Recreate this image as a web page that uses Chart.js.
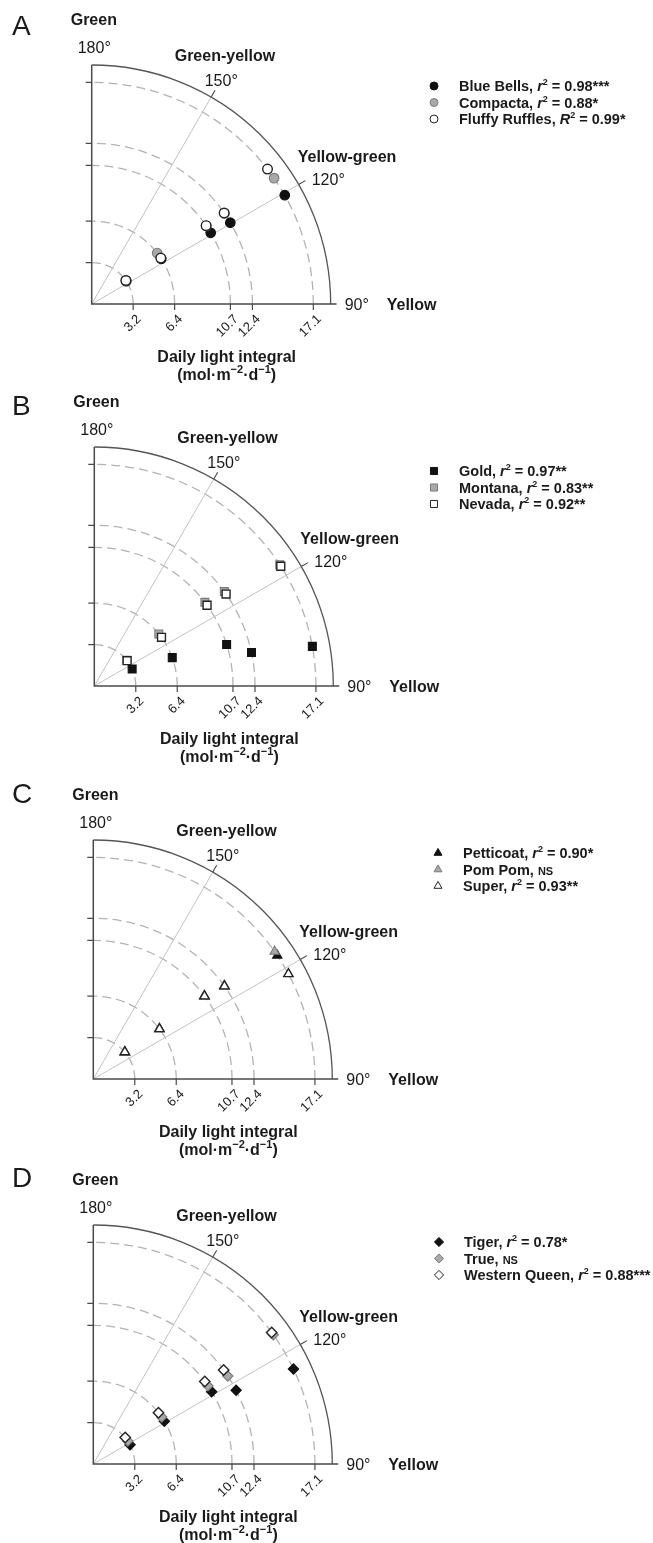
<!DOCTYPE html>
<html>
<head>
<meta charset="utf-8">
<script src="https://cdn.jsdelivr.net/npm/chart.js@4.4.0/dist/chart.umd.min.js"></script>
<style>
  body { margin: 0; background: #fff; }
  #wrap { position: relative; width: 653px; height: 1543px; overflow: hidden; }
  #wrap canvas { position: absolute; left: 0; }
</style>
</head>
<body>
<div id="wrap">
  <canvas id="chartA" width="653" height="383" style="top:0px"></canvas>
  <canvas id="chartB" width="653" height="383" style="top:382px"></canvas>
  <canvas id="chartC" width="653" height="383" style="top:775px"></canvas>
  <canvas id="chartD" width="653" height="383" style="top:1160px"></canvas>
</div>
<script>
// daily light integral levels (radius) and tick labels
const dliLevels = [3.2, 6.4, 10.7, 12.4, 17.1];
const dliTickLabels = ["3.2", "6.4", "10.7", "12.4", "17.1"];

// hue angle (degrees), one value per DLI level
// A
const blueBellsHue = [123.5, 123.0, 120.9, 120.4, 119.4];
const compactaHue = [124.2, 127.9, 124.3, 124.3, 124.6];
const fluffyRufflesHue = [124.5, 123.6, 124.4, 124.5, 127.5];
// B
const goldHue = [114.1, 110.0, 107.4, 102.0, 100.3];
const montanaHue = [128.3, 128.9, 127.1, 126.0, 123.2];
const nevadaHue = [127.7, 125.9, 125.6, 124.9, 122.7];
// C
const petticoatHue = [130.3, 127.0, 126.6, 125.2, 123.9];
const pomPomHue = [130.8, 127.3, 126.9, 125.5, 125.1];
const superHue = [130.5, 127.1, 126.7, 125.3, 118.3];
// D
const tigerHue = [117.6, 121.1, 121.4, 117.3, 115.4];
const trueHue = [123.7, 124.5, 124.3, 123.2, 125.7];
const westernQueenHue = [129.7, 128.2, 126.5, 125.8, 126.4];

// legend texts
const panelANames = ["Blue Bells", "Compacta", "Fluffy Ruffles"];
const panelASym = ["r", "r", "R"];
const panelAStat = ["0.98***", "0.88*", "0.99*"];
const panelBNames = ["Gold", "Montana", "Nevada"];
const panelBSym = ["r", "r", "r"];
const panelBStat = ["0.97**", "0.83**", "0.92**"];
const panelCNames = ["Petticoat", "Pom Pom", "Super"];
const panelCSym = ["r", null, "r"];
const panelCStat = ["0.90*", "NS", "0.93**"];
const panelDNames = ["Tiger", "True", "Western Queen"];
const panelDSym = ["r", null, "r"];
const panelDStat = ["0.78*", "NS", "0.88***"];

const hueLines = [150, 120];

const k = 12.96;          // px per DLI unit
const axisMax = 20;
const oyLocal = 304;
const canvasW = 653, canvasH = 383;
const outerR = 18.44;
const FONT = '"Liberation Sans", Arial, sans-serif';

// black / grey / white marker look
const fills = ["#111111", "#a9a9a9", "#ffffff"];
const borders = ["#111111", "#7a7a7a", "#222222"];

const panels = [
  { id: "chartA", letter: "A", ox: 91.7, letterDy: -269, style: "circle", radius: 4.8, legR: 4,
    legX: 434, legY: -213, names: panelANames, sym: panelASym, stat: panelAStat,
    hues: [blueBellsHue, compactaHue, fluffyRufflesHue] },
  { id: "chartB", letter: "B", ox: 94.3, letterDy: -271, style: "rect", radius: 5.6, legR: 5,
    legX: 434, legY: -210, names: panelBNames, sym: panelBSym, stat: panelBStat,
    hues: [goldHue, montanaHue, nevadaHue] },
  { id: "chartC", letter: "C", ox: 93.3, letterDy: -276, style: "triangle", radius: 5.4, legR: 4.6,
    legX: 438, legY: -221, names: panelCNames, sym: panelCSym, stat: panelCStat,
    hues: [petticoatHue, pomPomHue, superHue] },
  { id: "chartD", letter: "D", ox: 93.3, letterDy: -277, style: "rectRot", radius: 5.2, legR: 4.6,
    legX: 439, legY: -217, names: panelDNames, sym: panelDSym, stat: panelDStat,
    hues: [tigerHue, trueHue, westernQueenHue] }
];

const rad = (deg) => deg * Math.PI / 180;

// polar (hue, dli) -> cartesian data for the scatter scales
const toPoints = (hue) => dliLevels.map((d, i) => {
  const t = rad(hue[i] - 90);
  return { x: d * Math.cos(t), y: d * Math.sin(t) };
});

// draw text made of several font pieces
const drawParts = (ctx, parts, x, y, align) => {
  let total = 0;
  parts.forEach(p => { ctx.font = p.font; total += ctx.measureText(p.text).width; });
  let cx = align === "center" ? x - total / 2 : x;
  ctx.textAlign = "left";
  parts.forEach(p => {
    ctx.font = p.font;
    ctx.fillText(p.text, cx, y + (p.dy || 0));
    cx += ctx.measureText(p.text).width;
  });
};

const polarFrame = {
  id: "polarFrame",
  beforeDatasetsDraw(chart) {
    const { ctx, scales: { x, y } } = chart;
    const ox = x.getPixelForValue(0), oy = y.getPixelForValue(0);
    const px = (r) => x.getPixelForValue(r) - ox;
    const at = (r, hue) => {
      const t = rad(hue - 90);
      return [x.getPixelForValue(r * Math.cos(t)), y.getPixelForValue(r * Math.sin(t))];
    };
    ctx.save();

    // dashed DLI arcs
    ctx.strokeStyle = "#b3b3b3";
    ctx.lineWidth = 1.3;
    ctx.setLineDash([9, 5]);
    dliLevels.forEach(d => {
      ctx.beginPath();
      ctx.arc(ox, oy, px(d), 0, -Math.PI / 2, true);
      ctx.stroke();
    });
    ctx.setLineDash([]);

    // hue guide lines
    hueLines.forEach(h => {
      const [x1, y1] = at(outerR, h);
      ctx.strokeStyle = "#c2c2c2";
      ctx.lineWidth = 1;
      ctx.beginPath(); ctx.moveTo(ox, oy); ctx.lineTo(x1, y1); ctx.stroke();
      const [x2, y2] = at(outerR + 0.6, h);
      ctx.strokeStyle = "#444";
      ctx.lineWidth = 1.1;
      ctx.beginPath(); ctx.moveTo(x1, y1); ctx.lineTo(x2, y2); ctx.stroke();
    });

    // outer arc
    ctx.strokeStyle = "#555";
    ctx.lineWidth = 1.3;
    ctx.beginPath();
    ctx.arc(ox, oy, px(outerR), 0, -Math.PI / 2, true);
    ctx.stroke();

    // axes
    ctx.strokeStyle = "#4a4a4a";
    ctx.lineWidth = 1.5;
    ctx.beginPath();
    ctx.moveTo(ox, y.getPixelForValue(outerR));
    ctx.lineTo(ox, oy);
    ctx.lineTo(x.getPixelForValue(18.9), oy);
    ctx.stroke();

    // ticks
    ctx.lineWidth = 1.2;
    dliLevels.forEach(d => {
      const tx = x.getPixelForValue(d), ty = y.getPixelForValue(d);
      ctx.beginPath();
      ctx.moveTo(tx, oy); ctx.lineTo(tx, oy + 6);
      ctx.moveTo(ox, ty); ctx.lineTo(ox - 6, ty);
      ctx.stroke();
    });
    ctx.restore();
  },
  afterDraw(chart, args, opts) {
    const { ctx, scales: { x, y } } = chart;
    const ox = x.getPixelForValue(0), oy = y.getPixelForValue(0);
    const bold = "bold 16px " + FONT;
    const reg = "16px " + FONT;
    ctx.save();
    ctx.fillStyle = "#1a1a1a";
    ctx.textBaseline = "alphabetic";
    ctx.textAlign = "left";

    ctx.font = "28px " + FONT;
    ctx.fillText(opts.letter, 12, oy + opts.letterDy);

    const label = (text, font, dx, dy) => { ctx.font = font; ctx.fillText(text, ox + dx, oy + dy); };
    label("Green", bold, -21, -279);
    label("180°", reg, -14, -251);
    label("Green-yellow", bold, 83, -243);
    label("150°", reg, 113, -218);
    label("Yellow-green", bold, 206, -142);
    label("120°", reg, 220, -119);
    label("90°", reg, 253, 6);
    label("Yellow", bold, 295, 6);

    // rotated tick labels
    ctx.font = "13px " + FONT;
    dliLevels.forEach((d, i) => {
      const tx = x.getPixelForValue(d);
      ctx.save();
      ctx.translate(tx + 6, oy + 13);
      ctx.rotate(-Math.PI / 4);
      ctx.textAlign = "right";
      ctx.textBaseline = "middle";
      ctx.fillText(dliTickLabels[i], 0, 0);
      ctx.restore();
    });

    ctx.textAlign = "center";
    ctx.font = bold;
    ctx.fillText("Daily light integral", ox + 135, oy + 58);
    const sup = "bold 11px " + FONT;
    drawParts(ctx, [
      { text: "(mol·m", font: bold },
      { text: "−2", font: sup, dy: -7 },
      { text: "·d", font: bold },
      { text: "−1", font: sup, dy: -7 },
      { text: ")", font: bold }
    ], ox + 135, oy + 76, "center");

    // legend
    const lb = "bold 14.5px " + FONT;
    chart.data.datasets.forEach((ds, i) => {
      const ly = oy + opts.legY + i * 16.5;
      ctx.save();
      ctx.fillStyle = ds.backgroundColor;
      ctx.strokeStyle = ds.borderColor;
      ctx.lineWidth = 1;
      Chart.helpers.drawPoint(ctx, { pointStyle: ds.pointStyle, radius: opts.legR, borderWidth: 1, rotation: 0 },
        opts.legX, ly - 5);
      ctx.restore();
      const parts = [{ text: opts.names[i] + ", ", font: lb }];
      if (opts.sym[i]) {
        parts.push({ text: opts.sym[i], font: "italic " + lb });
        parts.push({ text: "2", font: "bold 9px " + FONT, dy: -6 });
        parts.push({ text: " = " + opts.stat[i], font: lb });
      } else {
        parts.push({ text: opts.stat[i], font: "bold 11px " + FONT });
      }
      drawParts(ctx, parts, opts.legX + 25, ly, "left");
    });
    ctx.restore();
  }
};

const charts = [];
panels.forEach(p => {
  const side = axisMax * k;
  const datasets = p.hues.map((hue, i) => ({
    label: p.names[i],
    data: toPoints(hue),
    pointStyle: p.style,
    pointRadius: p.radius,
    pointBorderWidth: i === 2 ? 1.4 : 1.1,
    backgroundColor: fills[i],
    borderColor: borders[i],
    showLine: false,
    order: 2 - i
  }));
  charts.push(new Chart(document.getElementById(p.id), {
    type: "scatter",
    data: { datasets: datasets },
    options: {
      responsive: false,
      animation: false,
      devicePixelRatio: 1,
      events: [],
      layout: {
        padding: {
          left: p.ox,
          top: oyLocal - side,
          right: canvasW - p.ox - side,
          bottom: canvasH - oyLocal
        }
      },
      scales: {
        x: { type: "linear", min: 0, max: axisMax, display: false },
        y: { type: "linear", min: 0, max: axisMax, display: false }
      },
      plugins: {
        legend: { display: false },
        tooltip: { enabled: false },
        polarFrame: p
      }
    },
    plugins: [polarFrame]
  }));
});
</script>
</body>
</html>
